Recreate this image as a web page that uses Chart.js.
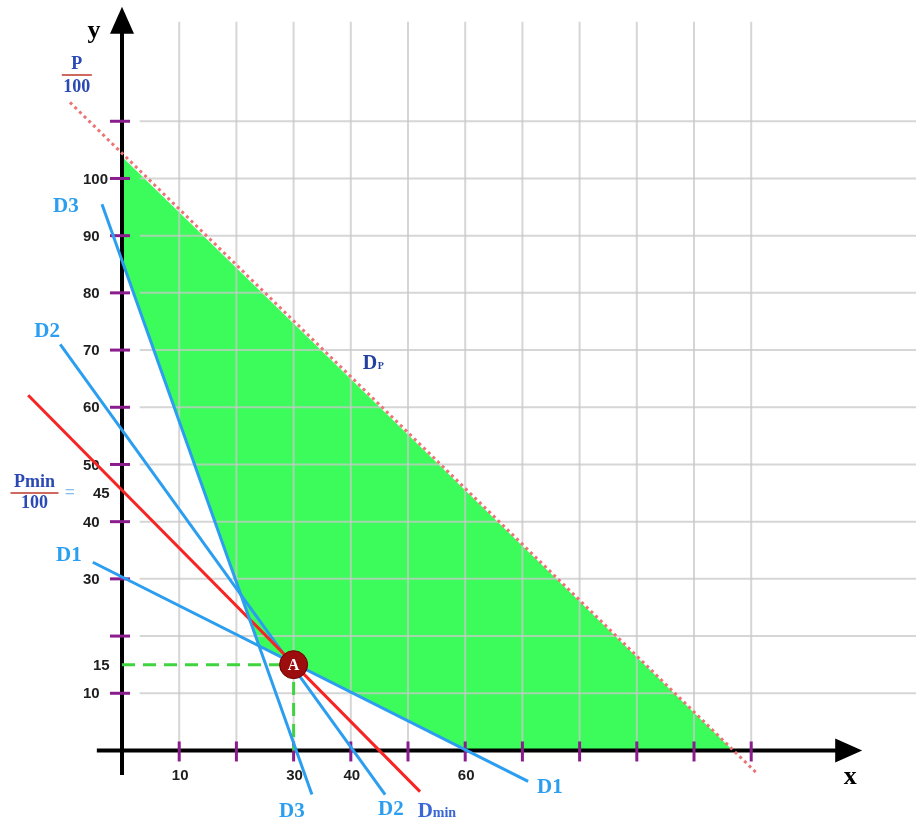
<!DOCTYPE html>
<html>
<head>
<meta charset="utf-8">
<script src="https://cdn.jsdelivr.net/npm/chart.js@4.4.1/dist/chart.umd.min.js"></script>
<style>
  body { margin: 0; background: #fff; }
  #wrap { width: 916px; height: 823px; }
</style>
</head>
<body>
<div id="wrap"><canvas id="chart" width="916" height="823"></canvas></div>
<script>
// feasible region (green) and the lines, in chart units
const regionX = [0, 106.8, 60.2, 24.0, 0];
const regionY = [103.8, 0, 0, 18.2, 85.6];
const dpX = [-9.1, 110.9];
const dpY = [113.3, -3.9];
const d1X = [-5.1, 71.0];
const d1Y = [32.9, -5.4];
const d2X = [-10.8, 46.0];
const d2Y = [71.0, -7.7];
const d3X = [-3.5, 33.2];
const d3Y = [95.5, -7.7];
const dminX = [-16.4, 52.1];
const dminY = [62.1, -7.2];
const optX = [30];
const optY = [15];
const guideX = [0, 30, 30];
const guideY = [15, 15, 0];

// axis ticks and labels
const xTicks = [10, 20, 30, 40, 50, 60, 70, 80, 90, 100, 110];
const yTicks = [10, 20, 30, 40, 50, 60, 70, 80, 90, 100, 110];
const xTickLabels = [10, 30, 40, 60];
const yTickLabels = [10, 15, 30, 40, 45, 50, 60, 70, 80, 90, 100];

const LIGHT_BLUE = "#2b9ef0";
const TICK_FONT = "bold 15px 'Liberation Sans', Arial, sans-serif";
const SERIF = "'Liberation Serif', 'Times New Roman', serif";

function pts(xs, ys) {
  return xs.map((x, i) => ({ x: x, y: ys[i] }));
}

// draws grid, axes, ticks and tick labels right after the green region
const backdrop = {
  id: "backdrop",
  afterDatasetDraw(chart, args) {
    if (args.index !== 0) return;
    const ctx = chart.ctx;
    const sx = chart.scales.x, sy = chart.scales.y;
    const X = (v) => sx.getPixelForValue(v);
    const Y = (v) => sy.getPixelForValue(v);
    ctx.save();

    // grid
    ctx.strokeStyle = "rgba(200,200,200,0.75)";
    ctx.lineWidth = 2;
    xTicks.forEach((t) => {
      ctx.beginPath();
      ctx.moveTo(X(t), Y(0));
      ctx.lineTo(X(t), Y(127.4));
      ctx.stroke();
    });
    yTicks.forEach((t) => {
      ctx.beginPath();
      ctx.moveTo(X(3.1), Y(t));
      ctx.lineTo(X(sx.max), Y(t));
      ctx.stroke();
    });

    // axes
    ctx.strokeStyle = "#000";
    ctx.lineWidth = 4;
    ctx.beginPath();
    ctx.moveTo(X(-4.4), Y(0));
    ctx.lineTo(X(125), Y(0));
    ctx.moveTo(X(0), Y(-4.3));
    ctx.lineTo(X(0), Y(126));
    ctx.stroke();

    // purple tick marks
    ctx.strokeStyle = "#8a1c8e";
    ctx.lineWidth = 3;
    xTicks.forEach((t) => {
      ctx.beginPath();
      ctx.moveTo(X(t), Y(0) - 9);
      ctx.lineTo(X(t), Y(0) + 11);
      ctx.stroke();
    });
    yTicks.forEach((t) => {
      ctx.beginPath();
      ctx.moveTo(X(0) - 12, Y(t));
      ctx.lineTo(X(0) + 8, Y(t));
      ctx.stroke();
    });

    // tick labels
    ctx.fillStyle = "#1e1e1e";
    ctx.font = TICK_FONT;
    ctx.textBaseline = "middle";
    ctx.textAlign = "center";
    xTickLabels.forEach((t) => ctx.fillText(String(t), X(t) + 1, Y(0) + 25));
    ctx.textAlign = "left";
    yTickLabels.forEach((t) => {
      const shift = (t === 15 || t === 45) ? 10 : 0;
      ctx.fillText(String(t), X(0) - 39 + shift, Y(t) + 1);
    });
    ctx.restore();
  },
  afterDatasetsDraw(chart) {
    const ctx = chart.ctx;
    const sx = chart.scales.x, sy = chart.scales.y;
    const X = (v) => sx.getPixelForValue(v);
    const Y = (v) => sy.getPixelForValue(v);
    ctx.save();

    // arrow heads
    ctx.fillStyle = "#000";
    ctx.beginPath();
    ctx.moveTo(X(129.4), Y(0));
    ctx.lineTo(X(129.4) - 27, Y(0) - 12);
    ctx.lineTo(X(129.4) - 27, Y(0) + 12);
    ctx.closePath();
    ctx.fill();
    ctx.beginPath();
    ctx.moveTo(X(0), Y(130.0));
    ctx.lineTo(X(0) - 12, Y(130.0) + 27);
    ctx.lineTo(X(0) + 12, Y(130.0) + 27);
    ctx.closePath();
    ctx.fill();

    // axis names
    ctx.font = "bold 26px " + SERIF;
    ctx.textAlign = "center";
    ctx.textBaseline = "middle";
    ctx.fillText("x", X(127.3), Y(-4.6));
    ctx.fillText("y", X(-4.9), Y(125.8));

    // point A letter
    ctx.fillStyle = "#fff";
    ctx.font = "bold 16px " + SERIF;
    ctx.fillText("A", X(optX[0]), Y(optY[0]) + 1);

    // line labels
    ctx.fillStyle = LIGHT_BLUE;
    ctx.font = "bold 21px " + SERIF;
    [["D3", -9.8, 95.0], ["D2", -13.1, 73.2], ["D1", -9.3, 34.0],
     ["D3", 29.7, -10.7], ["D2", 47.0, -10.4], ["D1", 74.8, -6.4]].forEach((l) => {
      ctx.fillText(l[0], X(l[1]), Y(l[2]));
    });

    // Dmin
    ctx.textAlign = "left";
    ctx.textBaseline = "alphabetic";
    ctx.fillStyle = "#3a66d6";
    ctx.font = "bold 21px " + SERIF;
    const bx = X(51.7), by = Y(-10.4) + 7;
    ctx.fillText("D", bx, by);
    ctx.font = "bold 14px " + SERIF;
    ctx.fillText("min", bx + 15, by);

    // DP
    ctx.fillStyle = "#22409e";
    ctx.font = "bold 20px " + SERIF;
    const px0 = X(42.1), py0 = Y(67.9) + 7;
    ctx.fillText("D", px0, py0);
    ctx.font = "bold 10px " + SERIF;
    ctx.fillText("P", px0 + 15, py0);

    // fractions P/100 and Pmin/100 = 45
    ctx.textAlign = "center";
    ctx.textBaseline = "middle";
    ctx.fillStyle = "#2a49b4";
    ctx.font = "bold 18px " + SERIF;
    const fx = X(-7.9), fy = Y(118.1);
    ctx.fillText("P", fx, fy - 11);
    ctx.fillText("100", fx, fy + 12);
    const gx = X(-15.3), gy = Y(45.0);
    ctx.fillText("Pmin", gx, gy - 11);
    ctx.fillText("100", gx, gy + 10);
    ctx.strokeStyle = "#c0392b";
    ctx.lineWidth = 1.5;
    ctx.beginPath();
    ctx.moveTo(fx - 15, fy);
    ctx.lineTo(fx + 15, fy);
    ctx.moveTo(gx - 24, gy);
    ctx.lineTo(gx + 24, gy);
    ctx.stroke();
    ctx.fillStyle = "#84bff0";
    ctx.font = "bold 18px " + SERIF;
    ctx.fillText("=", X(-9.1), gy);

    ctx.restore();
  }
};

const line = (data, color, width, order, extra) => Object.assign({
  data: data,
  showLine: true,
  borderColor: color,
  borderWidth: width,
  pointRadius: 0,
  fill: false,
  order: order
}, extra || {});

new Chart(document.getElementById("chart"), {
  type: "scatter",
  data: {
    datasets: [
      line(pts(regionX, regionY), "rgba(0,0,0,0)", 0, 20, {
        backgroundColor: "#3cfc5b",
        fill: "shape"
      }),
      line(pts(dpX, dpY), "#ec7474", 3, 9, { borderDash: [3, 3.5] }),
      line(pts(guideX, guideY), "#3fd43f", 3, 8, { borderDash: [13, 8] }),
      line(pts(d1X, d1Y), LIGHT_BLUE, 3, 5),
      line(pts(d2X, d2Y), LIGHT_BLUE, 3, 6),
      line(pts(dminX, dminY), "#f72424", 3, 4),
      line(pts(d3X, d3Y), LIGHT_BLUE, 3, 3),
      {
        data: pts(optX, optY),
        pointRadius: 14,
        pointBackgroundColor: "#9c0d0d",
        pointBorderColor: "#6e0000",
        pointBorderWidth: 1,
        order: 1
      }
    ]
  },
  options: {
    responsive: false,
    animation: false,
    layout: { padding: 0, autoPadding: false },
    plugins: {
      legend: { display: false },
      tooltip: { enabled: false }
    },
    scales: {
      x: { type: "linear", min: -21.33, max: 138.81, display: false },
      y: { type: "linear", min: -12.68, max: 131.2, display: false }
    }
  },
  plugins: [backdrop]
});
</script>
</body>
</html>
